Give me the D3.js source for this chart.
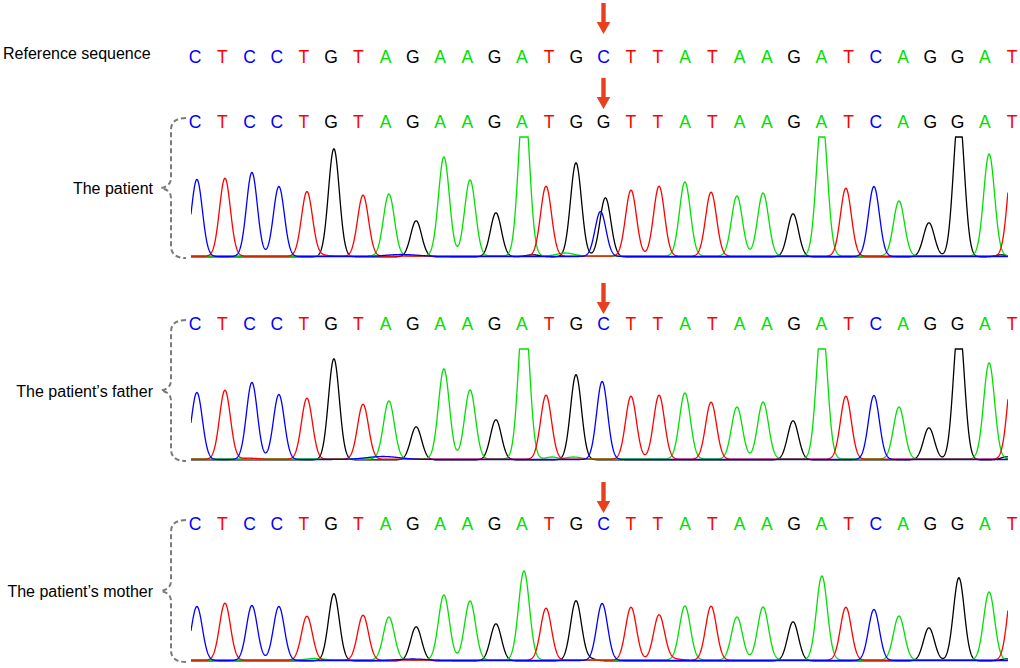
<!DOCTYPE html>
<html>
<head>
<meta charset="utf-8">
<script src="https://cdn.jsdelivr.net/npm/d3@7"></script>
<style>
  body { margin: 0; background: #fff; }
  text { font-family: Arial, "Liberation Sans", sans-serif; }
</style>
</head>
<body>
<div id="chart"></div>
<script>
// ---- data ----
const refBases = "CTCCTGTAGAAGATGCTTATAAGATCAGGAT".split("");
const patientBases = "CTCCTGTAGAAGATGGTTATAAGATCAGGAT".split("");
const fatherBases = refBases;
const motherBases = refBases;

// peak centres, in base units (0 = first base)
const peakLoc = [0.07, 1.10, 2.09, 3.08, 4.11, 5.10, 6.17, 7.12, 8.12, 9.14,
  10.10, 11.05, 12.08, 12.89, 13.99, 14.95, 16.01, 17.04, 17.99, 18.95,
  19.90, 20.86, 21.96, 23.02, 23.90, 24.93, 25.85, 26.95, 28.05, 29.16, 30.04];

// peak heights of the called base
const patientHeights = [77, 78, 84, 70, 64, 108, 61, 62, 36, 99, 76, 44, 160, 70, 94, 59,
  66, 70, 74, 64, 60, 63, 43, 140, 68, 70, 55, 34, 145, 102, 100];
const fatherHeights = [67, 69, 77, 65, 61, 101, 55, 58, 33, 90, 69, 40, 155, 64, 85, 78,
  63, 64, 66, 57, 52, 57, 39, 138, 63, 64, 52, 32, 138, 96, 94];
const motherHeights = [54, 57, 55, 54, 44, 67, 45, 43, 34, 65, 59, 37, 89, 52, 60, 57,
  53, 45, 54, 54, 43, 53, 39, 84, 53, 51, 44, 33, 83, 68, 78];

// extra peaks: [base, location, height, width]
const patientExtra = [["C", 14.89, 45, 0.2], ["C", 7.6, 2, 0.6], ["G", 12.4, 2, 0.25],
  ["A", 13.6, 3, 0.3], ["T", 4.5, 1.5, 0.3], ["G", 29.6, 2, 0.2]];
const fatherExtra = [["C", 6.9, 3, 0.6], ["A", 13.1, 2, 0.2], ["A", 13.9, 2, 0.25],
  ["G", 29.8, 3, 0.2], ["T", 2.0, 1, 0.3]];
const motherExtra = [["C", 8.0, 1.5, 0.5], ["G", 14.5, 2, 0.2], ["T", 17.5, 1.5, 0.3],
  ["G", 29.8, 2, 0.2], ["A", 4.4, 1.5, 0.3]];
const patientShift = {15: 15.07};

const baseColor = {A: "#00e000", C: "#0000ff", G: "#000000", T: "#ff0000"};
const baseFloor = {A: 1.0, T: 0.8, G: 0.2, C: 0.5};
const drawOrder = ["G", "A", "T", "C"];

// ---- layout ----
const width = 1020, height = 668;
const x = d3.scaleLinear().domain([0, 30]).range([195, 1012]);
const sigma = 0.2;
const traceRange = [-0.15, 29.85];
const mutIndex = 15;

const panels = [
  {label: "The patient", bases: patientBases, heights: patientHeights, extra: patientExtra,
    shift: patientShift, letterY: 128, base: 257, clip: 120, arrowTop: 78},
  {label: "The patient\u2019s father", bases: fatherBases, heights: fatherHeights, extra: fatherExtra,
    shift: {}, letterY: 330, base: 460, clip: 111, arrowTop: 283},
  {label: "The patient\u2019s mother", bases: motherBases, heights: motherHeights, extra: motherExtra,
    shift: {}, letterY: 530, base: 661, clip: 120, arrowTop: 482}
];

const svg = d3.select("#chart").append("svg")
  .attr("width", width)
  .attr("height", height);

function drawLetters(g, bases, y) {
  g.selectAll("text.base").data(bases).join("text")
    .attr("class", "base")
    .attr("x", (d, i) => x(i))
    .attr("y", y)
    .attr("text-anchor", "middle")
    .attr("font-size", 17.5)
    .attr("fill", d => baseColor[d])
    .text(d => d);
}

function drawArrow(g, top) {
  const cx = x(mutIndex);
  const p = d3.path();
  p.moveTo(cx - 2.2, top);
  p.lineTo(cx + 2.2, top);
  p.lineTo(cx + 2.2, top + 19);
  p.lineTo(cx + 6.8, top + 19);
  p.lineTo(cx, top + 31);
  p.lineTo(cx - 6.8, top + 19);
  p.lineTo(cx - 2.2, top + 19);
  p.closePath();
  g.append("path").attr("d", p.toString()).attr("fill", "#e8401e");
}

function drawBrace(g, y0, y1) {
  const mid = (y0 + y1) / 2, xr = 186, xv = 171, xp = 161;
  const p = d3.path();
  p.moveTo(xr, y0);
  p.quadraticCurveTo(xv, y0, xv, y0 + 12);
  p.lineTo(xv, mid - 10);
  p.quadraticCurveTo(xv, mid - 2, xp, mid);
  p.quadraticCurveTo(xv, mid + 2, xv, mid + 10);
  p.lineTo(xv, y1 - 12);
  p.quadraticCurveTo(xv, y1, xr, y1);
  g.append("path").attr("d", p.toString())
    .attr("fill", "none")
    .attr("stroke", "#7a7a7a")
    .attr("stroke-width", 2)
    .attr("stroke-dasharray", "5,3");
}

// reference row
const refG = svg.append("g");
refG.append("text")
  .attr("x", 3).attr("y", 59)
  .attr("font-size", 16)
  .text("Reference sequence");
drawLetters(refG, refBases, 63);
drawArrow(refG, 3);

// sample panels
const samples = d3.range(traceRange[0], traceRange[1] + 0.001, 0.01);

panels.forEach((pn, k) => {
  const g = svg.append("g");
  const y = d3.scaleLinear().domain([0, pn.clip]).range([pn.base, pn.base - pn.clip]).clamp(true);

  // peaks per channel
  const peaks = {A: [], C: [], G: [], T: []};
  pn.bases.forEach((b, i) => {
    const loc = pn.shift[i] !== undefined ? pn.shift[i] : peakLoc[i];
    peaks[b].push([loc, pn.heights[i], sigma]);
  });
  pn.extra.forEach(e => peaks[e[0]].push([e[1], e[2], e[3]]));

  const line = d3.line().x(d => x(d[0])).y(d => y(d[1]));

  const clipId = "clip" + k;
  g.append("clipPath").attr("id", clipId)
    .append("rect")
    .attr("x", x(traceRange[0])).attr("y", pn.base - pn.clip - 1)
    .attr("width", x(traceRange[1]) - x(traceRange[0]))
    .attr("height", pn.clip + 4);

  const tg = g.append("g").attr("clip-path", `url(#${clipId})`);
  drawOrder.forEach(b => {
    const pts = samples.map(s => {
      let v = 0;
      peaks[b].forEach(([c, h, w]) => { v += h * Math.exp(-((s - c) ** 2) / (2 * w * w)); });
      return [s, v + baseFloor[b]];
    });
    tg.append("path")
      .attr("d", line(pts))
      .attr("fill", "none")
      .attr("stroke", baseColor[b])
      .attr("stroke-width", 1.3);
  });

  drawLetters(g, pn.bases, pn.letterY);
  drawArrow(g, pn.arrowTop);
  drawBrace(g, pn.letterY - 10, pn.base + 1);

  g.append("text")
    .attr("x", 153)
    .attr("y", (pn.letterY - 10 + pn.base + 1) / 2 + 6)
    .attr("text-anchor", "end")
    .attr("font-size", 16)
    .text(pn.label);
});
</script>
</body>
</html>
